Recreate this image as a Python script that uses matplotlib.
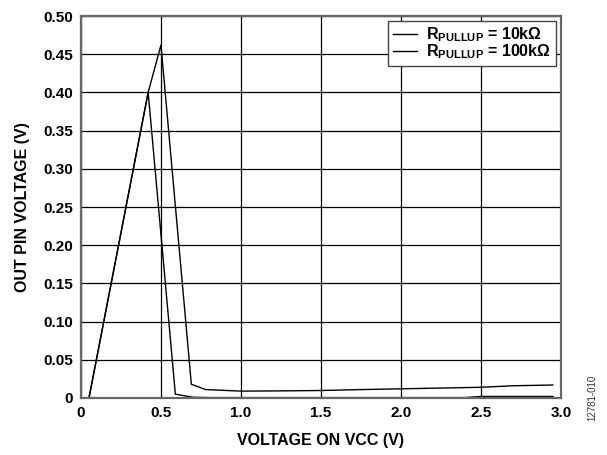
import matplotlib
matplotlib.use("Agg")
import matplotlib.pyplot as plt

plt.rcParams['font.family'] = ['Liberation Sans', 'DejaVu Sans']
plt.rcParams['font.weight'] = 'bold'
plt.rcParams['mathtext.fontset'] = 'custom'
plt.rcParams['mathtext.rm'] = 'Liberation Sans:bold'
plt.rcParams['mathtext.it'] = 'Liberation Sans:bold'
plt.rcParams['mathtext.bf'] = 'Liberation Sans:bold'

vcc_10k = [0.05, 0.42, 0.50, 0.69, 0.78, 1.0, 1.25, 1.5, 1.75, 2.0, 2.25, 2.5, 2.7, 2.95]
out_10k = [0.0, 0.40, 0.462, 0.018, 0.011, 0.009, 0.0093, 0.0098, 0.011, 0.012,
           0.013, 0.014, 0.016, 0.017]
vcc_100k = [0.05, 0.42, 0.59, 0.70, 0.8, 1.0, 1.5, 2.0, 2.4, 2.5, 2.95]
out_100k = [0.0, 0.40, 0.005, 0.001, 0.0005, 0.0005, 0.0005, 0.0005, 0.0005, 0.002, 0.002]

x_ticks = [0, 0.5, 1.0, 1.5, 2.0, 2.5, 3.0]
x_labels = ['0', '0.5', '1.0', '1.5', '2.0', '2.5', '3.0']
y_ticks = [0, 0.05, 0.10, 0.15, 0.20, 0.25, 0.30, 0.35, 0.40, 0.45, 0.50]
y_labels = ['0'] + [f'{v:.2f}' for v in y_ticks[1:]]

fig = plt.figure(figsize=(6.07, 4.55), dpi=100)
ax = fig.add_axes([0.1334, 0.1253, 0.7906, 0.8395])

ax.plot(vcc_10k, out_10k, color='black', lw=1.0, label='R$_{\\rm PULLUP}$ = 10k\u03a9')
ax.plot(vcc_100k, out_100k, color='black', lw=1.0, label='R$_{\\rm PULLUP}$ = 100k\u03a9')

ax.set_xlim(0, 3.0)
ax.set_ylim(0, 0.5)
ax.set_xticks(x_ticks)
ax.set_xticklabels(x_labels)
ax.set_yticks(y_ticks)
ax.set_yticklabels(y_labels)
ax.tick_params(length=0, labelsize=11, pad=6)
for lab in ax.get_xticklabels() + ax.get_yticklabels():
    lab.set_fontweight('bold')

ax.grid(True, color='black', lw=0.9)
ax.set_axisbelow(True)
for sp in ax.spines.values():
    sp.set_color('#666666')
    sp.set_linewidth(1.6)

ax.set_xlabel('VOLTAGE ON VCC (V)', fontsize=11.5, fontweight='bold', labelpad=9)
ax.set_ylabel('OUT PIN VOLTAGE (V)', fontsize=11.5, fontweight='bold', labelpad=9)

leg = ax.legend(loc='upper right', fontsize=11.5, frameon=True, fancybox=False,
                handlelength=1.5, handletextpad=0.6, borderpad=0.3,
                labelspacing=-0.1, borderaxespad=0.3)
leg.get_frame().set_edgecolor('#444444')
leg.get_frame().set_linewidth(1.0)
leg.get_frame().set_alpha(1.0)

fig.text(0.975, 0.125, '12781-010', rotation=90, fontsize=7, fontweight='normal',
         color='#333333', ha='center', va='center')

fig.savefig('out.png', dpi=100)
